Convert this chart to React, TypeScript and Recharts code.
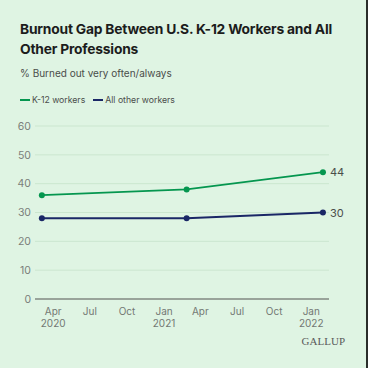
import React from 'react';
import { LineChart, Line, XAxis, YAxis, CartesianGrid, LabelList } from 'recharts';

const surveyDates = ['2020-03-04', '2021-02-26', '2022-01-30'];
const k12Workers = [36, 38, 44];
const otherWorkers = [28, 28, 30];
const yTicks = [0, 10, 20, 30, 40, 50, 60];
const xTickDates = ['2020-04-01', '2020-07-01', '2020-10-01', '2021-01-01', '2021-04-01', '2021-07-01', '2021-10-01', '2022-01-01'];
const xTickMonths = ['Apr', 'Jul', 'Oct', 'Jan', 'Apr', 'Jul', 'Oct', 'Jan'];
const xTickYears = ['2020', '', '', '2021', '', '', '', '2022'];
const xDomainDates = ['2020-02-16', '2022-02-14'];

const ts = (d: string) => new Date(d + 'T00:00:00Z').getTime();

const data = surveyDates.map((d, i) => ({ t: ts(d), k12: k12Workers[i], other: otherWorkers[i] }));
const xTicks = xTickDates.map(ts);

const GREEN = '#05964f';
const NAVY = '#1a2766';
const BG = '#dff4e3';

const XTick = (props: any) => {
  const { x, y, payload } = props;
  const idx = xTicks.indexOf(payload.value);
  return (
    <text x={x} y={y} textAnchor="middle" fill="#737873" fontSize={10} fontFamily="Inter, sans-serif">
      <tspan x={x} dy={7.5}>{xTickMonths[idx]}</tspan>
      {xTickYears[idx] ? <tspan x={x} dy={12}>{xTickYears[idx]}</tspan> : null}
    </text>
  );
};

const endLabel = (props: any) => {
  const { x, y, value, index } = props;
  if (index !== surveyDates.length - 1) return null;
  return (
    <text x={x + 7} y={y} dy={4} fill="#4a4d4a" fontSize={11} fontFamily="Inter, sans-serif">{value}</text>
  );
};

export default function App() {
  return (
    <div style={{ position: 'absolute', left: 0, top: 0, width: 368, height: 368, background: BG, overflow: 'hidden', fontFamily: 'Inter, sans-serif' }}>
      <div style={{ position: 'absolute', right: 0, top: 0, width: 2, height: 368, background: '#2a2d2a' }} />
      <div style={{ position: 'absolute', left: 20, top: 19, width: 330, fontSize: 13.8, fontWeight: 700, lineHeight: '20px', color: '#1c1c1c', letterSpacing: -0.2 }}>
        Burnout Gap Between U.S. K-12 Workers and All Other Professions
      </div>
      <div style={{ position: 'absolute', left: 20, top: 67, fontSize: 10, color: '#4a4d4a' }}>
        % Burned out very often/always
      </div>
      <div style={{ position: 'absolute', left: 20, top: 95, fontSize: 8.7, color: '#4a4d4a', display: 'flex', alignItems: 'center' }}>
        <span style={{ display: 'inline-block', width: 10, height: 2, background: GREEN, marginRight: 2 }} />
        <span style={{ marginRight: 8 }}>K-12 workers</span>
        <span style={{ display: 'inline-block', width: 10, height: 2, background: NAVY, marginRight: 2 }} />
        <span>All other workers</span>
      </div>
      <div style={{ position: 'absolute', left: 0, top: 110 }}>
        <LineChart width={368} height={230} data={data} margin={{ top: 16, right: 39, left: 0, bottom: 11 }}>
          <CartesianGrid horizontal vertical={false} stroke="#cbe6cf" strokeWidth={1} />
          <XAxis
            dataKey="t"
            type="number"
            scale="linear"
            domain={[ts(xDomainDates[0]), ts(xDomainDates[1])]}
            ticks={xTicks}
            tick={<XTick />}
            tickLine={false}
            axisLine={{ stroke: '#858a85', strokeWidth: 1.5 }}
            height={30}
            interval={0}
            allowDataOverflow
          />
          <YAxis
            domain={[0, 60]}
            ticks={yTicks}
            width={35}
            tickLine={false}
            axisLine={false}
            tickSize={4}
            tickMargin={0}
            tick={{ fill: '#7a7e7a', fontSize: 10.5, fontFamily: 'Inter, sans-serif' }}
          />
          <Line dataKey="k12" stroke={GREEN} strokeWidth={1.8} isAnimationActive={false}
            dot={{ r: 3, fill: GREEN, stroke: GREEN, strokeWidth: 0 }}>
            <LabelList dataKey="k12" content={endLabel} />
          </Line>
          <Line dataKey="other" stroke={NAVY} strokeWidth={1.8} isAnimationActive={false}
            dot={{ r: 3, fill: NAVY, stroke: NAVY, strokeWidth: 0 }}>
            <LabelList dataKey="other" content={endLabel} />
          </Line>
        </LineChart>
      </div>
      <div style={{ position: 'absolute', right: 23, top: 335, fontSize: 11, fontFamily: '"Liberation Serif", serif', color: '#5a5a5a' }}>
        GALLUP
      </div>
    </div>
  );
}
